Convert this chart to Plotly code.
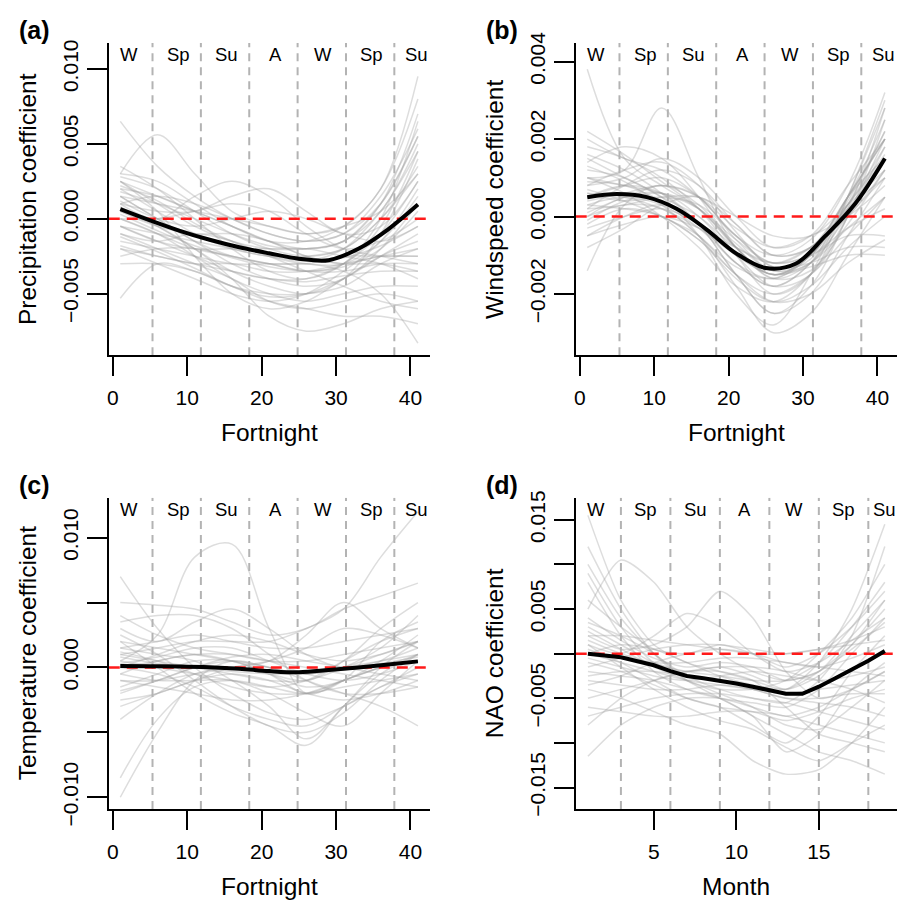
import plotly.graph_objects as go

# ---------------- data (coefficients in units of 1e-3) ----------------
fortnight_knots = [1, 6, 11, 16, 21, 26, 31, 36, 41]
fortnight_mean_x = [1, 5, 9, 13, 17, 21, 25, 29, 33, 37, 41]
month_knots = [1, 3, 5, 7, 9, 11, 13, 15, 17, 19]
month_mean_x = list(range(1, 20))

fortnight_seasons_x = [5.33, 11.83, 18.33, 24.83, 31.33, 37.83]
fortnight_label_x = [2.2, 8.8, 15.3, 21.8, 28.3, 34.8, 40.8]
month_seasons_x = [3, 6, 9, 12, 15, 18]
month_label_x = [1.5, 4.5, 7.5, 10.5, 13.5, 16.5, 19]
season_labels = ["W", "Sp", "Su", "A", "W", "Sp", "Su"]

precip_mean = [0.65, -0.1, -0.8, -1.4, -1.9, -2.3, -2.66, -2.76, -2.0, -0.7, 0.95]
precip_draws = [
    [6.5, 3.5, 1.5, 0.0, -1.0, -1.5, -1.0, 1.5, 6.0],
    [3.0, 5.6, 3.0, 0.5, -0.5, -1.0, -0.5, 2.0, 8.0],
    [2.5, 1.5, 0.5, -0.5, -1.5, -2.0, -1.5, 1.0, 5.5],
    [2.0, 0.5, -1.0, -2.0, -2.5, -2.8, -2.0, 0.5, 4.5],
    [-5.3, -3.0, -3.5, -4.5, -5.0, -5.0, -4.5, -3.0, -2.0],
    [1.5, 0.0, -1.5, -3.0, -4.0, -4.5, -4.0, -2.0, 1.0],
    [1.0, 0.5, 0.5, 1.5, 2.0, 0.5, -1.0, -0.5, 2.5],
    [0.5, -0.5, -1.0, -1.0, -1.5, -2.5, -3.0, -2.5, -2.5],
    [-1.0, -2.0, -3.0, -4.0, -5.5, -6.0, -5.5, -5.0, -5.5],
    [2.8, 2.0, 0.5, -1.0, -2.0, -2.5, -2.0, 0.0, 3.0],
    [0.0, -1.0, -2.0, -2.5, -3.0, -3.5, -3.5, -3.0, -3.0],
    [-2.0, -2.5, -3.0, -3.0, -3.5, -3.5, -3.0, -2.5, -2.0],
    [1.8, 1.0, 0.0, -1.0, -1.8, -2.0, -1.5, 0.5, 5.0],
    [-0.5, -1.5, -2.5, -3.5, -4.0, -4.0, -3.0, -1.0, 2.5],
    [3.0, 2.5, 1.0, -0.5, -1.5, -1.5, -0.5, 2.0, 9.5],
    [0.5, -0.5, -2.0, -4.0, -6.5, -7.5, -7.0, -6.0, -5.5],
    [-1.5, -2.0, -2.5, -3.0, -3.0, -3.0, -2.5, -2.5, -2.5],
    [1.0, 0.0, 1.5, 2.5, 1.5, -0.5, -2.0, -2.5, -3.0],
    [2.2, 1.2, -0.3, -1.5, -2.5, -3.0, -3.0, -1.5, 1.5],
    [0.0, -1.0, -2.5, -4.0, -5.0, -5.5, -5.0, -4.5, -4.5],
    [-2.5, -2.0, -2.0, -2.5, -3.0, -3.0, -3.5, -5.0, -8.3],
    [1.5, 1.0, 0.5, 0.0, -0.5, -1.0, -0.5, 0.5, 3.0],
    [0.8, -0.5, -2.0, -3.5, -4.5, -5.0, -4.0, -1.0, 4.0],
    [-1.0, -1.5, -1.0, -1.5, -2.5, -3.5, -4.5, -5.5, -6.0],
    [2.5, 0.5, -2.5, -5.0, -6.0, -5.5, -4.0, -2.5, -1.5],
    [-0.5, -1.0, -1.5, -2.0, -2.5, -2.5, -2.0, 0.0, 3.5],
    [1.2, 0.0, -0.5, 0.0, 0.5, 0.0, -1.0, -1.5, -0.5],
    [-3.0, -3.0, -3.5, -4.5, -5.5, -6.0, -6.5, -6.5, -7.0],
    [0.3, -0.8, -1.8, -2.6, -3.2, -3.5, -3.2, -2.0, 0.5],
    [2.0, 1.5, 0.5, -0.5, -1.5, -2.5, -3.0, -3.0, -3.5],
    [-1.8, -2.5, -3.0, -3.5, -4.0, -4.2, -3.8, -3.5, -3.5],
    [1.0, 1.5, 1.0, 0.0, -1.0, -1.5, -1.0, 1.0, 5.5],
    [3.5, 2.0, 0.0, -2.0, -3.5, -4.0, -3.0, 0.0, 6.5],
    [-0.5, -1.5, -2.0, -2.0, -2.0, -2.0, -2.5, -3.0, -4.0],
    [0.0, 0.0, 0.5, 1.0, 0.5, -1.0, -2.0, -1.5, 0.0],
    [1.5, 0.0, -1.5, -2.5, -3.0, -3.5, -3.0, -0.5, 4.5],
    [-1.2, -2.2, -3.3, -4.5, -5.2, -5.0, -4.0, -2.5, -1.0],
    [2.5, 1.0, -0.5, -1.5, -2.0, -2.0, -1.5, 1.0, 7.0],
    [0.6, -0.3, -1.0, -1.8, -2.4, -2.8, -2.6, -1.8, -0.5],
    [-2.0, -3.0, -4.0, -5.0, -5.5, -5.0, -3.5, -1.5, 2.0],
]

wind_mean = [0.5, 0.58, 0.5, 0.2, -0.33, -0.95, -1.33, -1.22, -0.5, 0.33, 1.5]
wind_draws = [
    [3.8, 1.5, 0.8, 0.2, -0.8, -1.5, -1.0, 0.5, 2.0],
    [2.0, 1.5, 1.2, 0.5, -0.5, -1.2, -0.8, 0.5, 2.5],
    [-1.4, 0.3, 0.8, 0.3, -0.8, -1.6, -1.2, 0.0, 1.0],
    [1.0, 1.2, 2.8, 1.0, -0.8, -1.5, -1.0, 0.3, 1.5],
    [0.5, 0.8, 0.6, -0.2, -1.5, -2.5, -2.0, -0.5, 1.0],
    [0.0, 0.3, 0.2, -0.5, -1.8, -3.0, -2.5, -1.0, 0.5],
    [1.5, 1.0, 0.5, -0.5, -2.0, -2.8, -1.5, 0.5, 2.8],
    [-0.5, -0.2, 0.0, -0.3, -0.8, -1.2, -1.0, -0.5, -0.5],
    [0.8, 1.0, 1.5, 1.0, 0.0, -0.8, -0.5, 0.8, 2.0],
    [0.3, 0.5, 0.3, -0.3, -1.2, -1.8, -1.2, 0.3, 2.2],
    [1.2, 1.0, 0.5, 0.0, -0.8, -1.2, -0.8, 0.0, 1.2],
    [-0.3, 0.0, 0.2, -0.2, -1.0, -1.5, -1.3, -1.0, -1.0],
    [0.6, 0.5, 0.2, -0.3, -1.0, -1.5, -1.2, -0.3, 0.5],
    [1.8, 1.5, 1.0, 0.2, -1.0, -2.0, -1.5, 0.5, 3.0],
    [0.2, 0.8, 1.2, 0.8, -0.2, -1.0, -0.8, 0.2, 1.5],
    [-0.8, -0.3, 0.3, 0.5, -0.2, -1.0, -0.8, 0.5, 2.0],
    [1.0, 0.6, 0.0, -0.8, -1.8, -2.2, -1.5, 0.0, 1.8],
    [0.4, 0.6, 0.8, 0.5, -0.3, -0.8, -0.5, 0.0, 0.8],
    [0.7, 0.4, 0.0, -0.5, -1.5, -2.0, -1.5, -0.5, 0.5],
    [1.4, 1.8, 1.5, 0.5, -0.8, -1.5, -1.0, 0.3, 1.8],
    [0.0, 0.5, 0.6, 0.0, -1.0, -1.8, -1.5, 0.0, 2.5],
    [-0.2, 0.2, 0.0, -0.6, -1.5, -2.2, -2.0, -1.2, -0.6],
    [0.9, 0.8, 0.4, -0.2, -1.2, -1.8, -1.2, 0.5, 2.0],
    [0.2, 0.3, 0.5, 0.5, 0.0, -0.5, -0.5, 0.3, 1.2],
    [1.6, 1.2, 0.6, -0.2, -1.5, -2.5, -1.8, 0.0, 2.0],
    [0.5, 0.8, 1.0, 0.5, -0.5, -1.0, -0.6, 0.8, 3.2],
    [-0.5, 0.0, 0.3, -0.2, -1.2, -1.6, -1.0, 0.5, 1.5],
    [1.0, 0.8, 0.6, 0.2, -0.6, -1.2, -1.0, -0.3, 0.2],
    [0.3, 0.2, 0.0, -0.6, -1.6, -2.2, -1.8, -0.8, 0.0],
    [0.8, 1.2, 1.4, 0.8, -0.4, -1.3, -1.0, 0.2, 1.0],
    [0.1, 0.5, 0.8, 0.5, -0.6, -1.4, -1.2, 0.2, 2.8],
    [1.3, 0.9, 0.3, -0.5, -1.3, -1.6, -1.0, 0.3, 1.6],
    [-0.1, 0.4, 0.6, 0.2, -0.8, -1.6, -1.4, -0.2, 1.2],
    [0.6, 0.4, 0.5, 0.3, -0.5, -1.3, -1.2, -0.8, -0.8],
    [2.2, 1.6, 0.9, 0.2, -0.7, -1.4, -1.1, 0.4, 2.2],
]

temp_mean = [0.12, 0.1, 0.08, 0.02, -0.1, -0.28, -0.37, -0.2, 0.0, 0.22, 0.47]
temp_draws = [
    [-10.0, -5.0, -1.0, 0.5, 0.0, -0.5, 0.0, 0.5, 1.0],
    [-8.5, -4.0, -1.5, -1.0, -1.5, -2.0, -1.0, 0.0, 0.5],
    [0.5, 2.5, 8.5, 9.5, 3.0, -2.0, -1.0, 0.0, 0.5],
    [1.0, 1.5, 2.0, 2.0, 2.0, 3.0, 4.5, 8.5, 12.0],
    [7.0, 3.0, 0.0, -2.0, -3.5, -4.0, -3.0, -1.5, 0.0],
    [5.0, 4.8, 4.5, 3.5, 2.5, 3.0, 4.5, 5.5, 6.5],
    [1.5, 1.0, 0.5, -1.0, -3.0, -5.5, -3.0, 0.0, 2.0],
    [-2.0, -1.0, 0.0, 0.5, 0.0, -1.0, -2.0, -3.0, -4.5],
    [2.0, 1.5, 1.0, 0.5, 0.0, -0.5, 0.0, 1.0, 2.0],
    [-1.5, -0.5, 0.5, 0.5, -0.5, -1.5, -1.0, 0.5, 2.5],
    [0.0, -0.5, -1.5, -3.0, -4.0, -4.5, -3.0, -1.5, -0.5],
    [3.0, 2.0, 3.5, 4.5, 3.0, 1.0, 0.0, 0.5, 1.5],
    [-3.0, -2.0, -1.0, 0.0, 0.5, 1.5, 3.0, 2.5, 1.5],
    [1.0, 0.5, 0.0, -0.5, -1.0, -1.0, 0.0, 1.5, 4.0],
    [-1.0, -1.5, -2.0, -2.5, -2.5, -2.0, -1.0, 0.0, 1.0],
    [0.5, 0.0, -0.5, -1.0, -1.5, -1.0, 0.5, 2.0, 3.0],
    [4.0, 2.5, 1.5, 1.0, 0.5, 0.5, 1.0, 1.5, 2.0],
    [-0.5, 0.5, 1.0, 1.0, 0.5, 0.0, -0.5, -1.0, -1.5],
    [2.5, 1.0, -1.0, -3.0, -4.5, -5.0, -3.5, -1.0, 1.0],
    [0.0, 0.5, 1.0, 0.5, -0.5, -2.0, -1.0, 2.0, 3.5],
    [-2.5, -2.0, -1.0, -0.5, -1.0, -2.0, -2.5, -2.0, -1.0],
    [1.5, 2.0, 2.5, 2.0, 1.5, 1.5, 2.0, 2.5, 3.0],
    [-0.5, -1.0, -1.0, -1.0, -2.0, -3.5, -4.5, -2.0, 0.5],
    [0.8, 0.3, 0.0, -0.3, -0.5, -0.5, -0.2, 0.3, 0.8],
    [-1.8, -1.0, 0.0, 0.8, 1.0, 0.5, 0.0, -0.5, -1.0],
    [3.5, 4.0, 4.0, 3.0, 1.0, -1.0, -2.0, -2.0, -1.5],
    [-4.0, -2.0, -0.5, 0.0, -0.5, -1.0, 0.5, 3.0, 5.0],
    [0.3, 0.8, 1.5, 1.5, 0.5, -0.5, -1.0, -0.5, 0.5],
    [1.2, 0.5, -0.5, -1.5, -2.0, -2.0, -1.5, -1.0, -0.5],
    [-1.0, -1.0, -0.5, 0.0, 0.5, 2.5, 5.0, 3.0, 1.5],
    [2.0, 0.0, -2.0, -3.5, -4.5, -6.0, -3.0, -0.5, 1.0],
    [0.0, 1.0, 2.0, 2.5, 2.0, 1.0, 0.5, 1.0, 2.0],
]

nao_mean = [0.0, -0.2, -0.4, -0.85, -1.3, -1.95, -2.5, -2.75, -3.0, -3.35,
            -3.7, -4.1, -4.5, -4.5, -3.7, -2.75, -1.8, -0.8, 0.3]
nao_draws = [
    [15.5, 6.0, 1.0, -1.0, -2.0, -3.0, -4.0, -1.0, 5.0, 14.5],
    [-11.5, -8.0, -6.0, -5.0, -5.0, -6.0, -7.0, -6.0, -4.0, -2.0],
    [5.0, 10.5, 8.0, 3.0, 0.0, -2.0, -3.0, -2.0, 2.0, 6.0],
    [10.0, 4.0, 0.0, -2.5, -4.0, -5.0, -5.5, -3.0, 2.0, 12.0],
    [2.0, 0.5, 1.0, 3.0, 7.0, 4.0, -2.0, -5.0, -4.0, -2.0],
    [-2.0, -2.5, -3.0, -4.0, -5.0, -7.0, -9.0, -11.0, -12.0, -13.5],
    [-4.0, -5.0, -6.5, -8.0, -9.0, -12.0, -13.5, -13.0, -10.0, -6.0],
    [3.0, 1.0, -1.0, -2.0, -2.5, -3.0, -3.0, -1.0, 3.0, 8.0],
    [0.0, -1.0, -2.0, -3.0, -3.5, -4.0, -4.5, -4.0, -3.5, -3.0],
    [-6.0, -6.5, -7.0, -7.0, -6.5, -6.5, -7.0, -8.0, -9.0, -10.0],
    [6.0, 3.0, 0.5, 0.0, 1.0, 0.0, -1.5, 0.0, 3.0, 7.0],
    [-1.0, -2.0, -3.5, -5.0, -6.0, -6.5, -7.5, -6.5, -5.0, -4.0],
    [1.0, 0.0, 2.0, 4.5, 3.0, 0.0, -2.0, -1.0, 1.5, 4.0],
    [8.0, 2.0, -2.0, -4.0, -5.0, -5.5, -6.0, -4.0, 0.0, 4.0],
    [-3.0, -3.5, -4.0, -4.0, -3.5, -4.0, -5.0, -5.0, -4.5, -4.5],
    [2.0, 2.0, 1.5, 1.0, 0.5, 0.0, 0.0, 0.5, 1.0, 1.5],
    [-8.0, -5.0, -3.0, -2.0, -2.0, -3.0, -6.0, -9.0, -10.0, -11.0],
    [4.0, 1.5, -0.5, -1.5, -1.0, -1.5, -3.0, -2.0, 0.5, 3.5],
    [-2.5, -2.0, -2.0, -2.5, -3.0, -4.0, -5.0, -5.5, -6.0, -7.0],
    [0.5, -1.0, -3.0, -5.0, -6.0, -8.0, -10.0, -7.0, -2.0, 2.0],
    [12.0, 5.0, 0.0, -3.0, -4.0, -4.0, -3.0, 0.0, 4.0, 10.0],
    [-5.0, -4.0, -3.0, -2.0, -1.5, -1.5, -2.0, -3.0, -4.0, -5.5],
    [1.5, 0.0, -1.0, -1.0, -0.5, -0.5, -1.0, -1.5, -2.0, -2.5],
    [-1.5, -0.5, 0.5, 1.0, 1.0, 0.5, 0.0, 0.5, 1.5, 3.0],
    [3.5, 2.0, 0.0, -3.0, -5.0, -7.0, -11.0, -9.0, -4.0, -1.0],
    [-7.0, -6.0, -5.0, -4.5, -4.5, -5.0, -5.5, -6.5, -7.5, -8.5],
    [0.0, 1.0, 0.5, -1.0, -2.5, -3.5, -4.0, -2.0, 1.0, 5.0],
    [2.5, 0.5, -1.5, -3.0, -4.5, -6.0, -8.0, -8.5, -6.0, -3.0],
    [-0.5, -1.5, -2.5, -3.0, -2.5, -2.0, -2.5, -3.0, -2.5, -1.5],
    [9.0, 3.0, -1.0, -2.0, -1.5, -2.5, -4.0, -2.5, 1.0, 6.0],
    [-3.5, -2.5, -1.0, 0.0, 0.5, 0.0, -1.0, -1.5, -0.5, 1.0],
    [1.0, -1.5, -4.0, -6.0, -7.5, -8.5, -10.5, -12.0, -10.0, -8.0],
]

# ---------------- styling / layout ----------------
W, H = 904, 919
FONT = "Liberation Sans, Arial, sans-serif"
GRAY = "rgba(160,160,160,0.36)"
SCALE = 1e-3
TICK_SIZE = 21
TITLE_SIZE = 24.5
SEASON_SIZE = 18.5
TAG_SIZE = 25

panels = [
    dict(tag="(a)", s="", box=(107, 429, 33, 355), xr=[-0.55, 42.63], yr=[-0.0091, 0.01173],
         knots=fortnight_knots, draws=precip_draws, mx=fortnight_mean_x, mean=precip_mean,
         mean_shape="spline", vlines=fortnight_seasons_x, lab_x=fortnight_label_x,
         xt=[0, 10, 20, 30, 40], yt=[-0.005, 0, 0.005, 0.01],
         ytt=["\u22120.005", "0.000", "0.005", "0.010"],
         ytitle="Precipitation coefficient", xtitle="Fortnight"),
    dict(tag="(b)", s="2", box=(575, 897, 33, 355), xr=[-0.55, 42.63], yr=[-0.00358, 0.00448],
         knots=fortnight_knots, draws=wind_draws, mx=fortnight_mean_x, mean=wind_mean,
         mean_shape="spline", vlines=fortnight_seasons_x, lab_x=fortnight_label_x,
         xt=[0, 10, 20, 30, 40], yt=[-0.002, 0, 0.002, 0.004],
         ytt=["\u22120.002", "0.000", "0.002", "0.004"],
         ytitle="Windspeed coefficient", xtitle="Fortnight"),
    dict(tag="(c)", s="3", box=(107, 429, 502, 823), xr=[-0.55, 42.63], yr=[-0.0109, 0.01308],
         knots=fortnight_knots, draws=temp_draws, mx=fortnight_mean_x, mean=temp_mean,
         mean_shape="spline", vlines=fortnight_seasons_x, lab_x=fortnight_label_x,
         xt=[0, 10, 20, 30, 40], yt=[-0.01, -0.005, 0, 0.005, 0.01],
         ytt=["\u22120.010", "", "0.000", "", "0.010"],
         ytitle="Temperature coefficient", xtitle="Fortnight"),
    dict(tag="(d)", s="4", box=(575, 897, 502, 823), xr=[0.26, 19.74], yr=[-0.0174, 0.01748],
         knots=month_knots, draws=nao_draws, mx=month_mean_x, mean=nao_mean,
         mean_shape="linear", vlines=month_seasons_x, lab_x=month_label_x,
         xt=[5, 10, 15], yt=[-0.015, -0.01, -0.005, 0, 0.005, 0.01, 0.015],
         ytt=["\u22120.015", "", "\u22120.005", "", "0.005", "", "0.015"],
         ytitle="NAO coefficient", xtitle="Month"),
]

fig = go.Figure()
annotations = []
layout = {}

for p in panels:
    s = p["s"]
    xa, ya = "x" + s, "y" + s
    l, r, t, b = p["box"]
    # gray posterior curves
    for d in p["draws"]:
        fig.add_trace(go.Scatter(
            x=p["knots"], y=[v * SCALE for v in d], mode="lines",
            line=dict(color=GRAY, width=1.5, shape="spline",
                      smoothing=1.0 if s != "4" else 0.7),
            hoverinfo="skip", showlegend=False, xaxis=xa, yaxis=ya))
    # season separators
    vx, vy = [], []
    for v in p["vlines"]:
        vx += [v, v, None]
        vy += [p["yr"][0], p["yr"][1], None]
    fig.add_trace(go.Scatter(x=vx, y=vy, mode="lines",
                             line=dict(color="#b3b3b3", width=2, dash="8px,6px"),
                             hoverinfo="skip", showlegend=False, xaxis=xa, yaxis=ya))
    # zero reference
    fig.add_trace(go.Scatter(x=p["xr"], y=[0, 0], mode="lines",
                             line=dict(color="#ff1a1a", width=2.5, dash="11px,7px"),
                             hoverinfo="skip", showlegend=False, xaxis=xa, yaxis=ya))
    # mean curve
    fig.add_trace(go.Scatter(x=p["mx"], y=[v * SCALE for v in p["mean"]], mode="lines",
                             line=dict(color="black", width=4, shape=p["mean_shape"]),
                             hoverinfo="skip", showlegend=False, xaxis=xa, yaxis=ya))

    layout["xaxis" + s] = dict(
        domain=[l / W, r / W], range=p["xr"], anchor=ya, showline=True, linewidth=2,
        linecolor="black", ticks="outside", ticklen=19, tickwidth=2, tickcolor="black",
        tickvals=p["xt"], showgrid=False, zeroline=False, ticklabelstandoff=4,
        tickfont=dict(size=TICK_SIZE, color="black", family=FONT))
    layout["yaxis" + s] = dict(
        domain=[1 - b / H, 1 - t / H], range=p["yr"], anchor=xa, showline=True, linewidth=2,
        linecolor="black", ticks="outside", ticklen=20, tickwidth=2, tickcolor="black",
        tickvals=p["yt"], ticktext=p["ytt"], tickangle=-90, showgrid=False, zeroline=False,
        tickfont=dict(size=TICK_SIZE, color="black", family=FONT))

    # season labels
    for lx, lab in zip(p["lab_x"], season_labels):
        annotations.append(dict(x=lx, y=1 - (t + 12) / H, xref=xa, yref="paper", text=lab,
                                showarrow=False, xanchor="center", yanchor="middle",
                                font=dict(size=SEASON_SIZE, color="black", family=FONT)))
    # axis titles
    annotations.append(dict(x=(l + r) / 2 / W, y=1 - (b + 80) / H, xref="paper", yref="paper",
                            text=p["xtitle"], showarrow=False, xanchor="center", yanchor="middle",
                            font=dict(size=TITLE_SIZE, color="black", family=FONT)))
    annotations.append(dict(x=(l - 82) / W, y=1 - (t + b) / 2 / H, xref="paper", yref="paper",
                            text=p["ytitle"], showarrow=False, textangle=-90,
                            xanchor="center", yanchor="middle",
                            font=dict(size=TITLE_SIZE, color="black", family=FONT)))
    # panel tag
    annotations.append(dict(x=(l - 74) / W, y=1 - (t - 13) / H, xref="paper", yref="paper",
                            text="<b>" + p["tag"] + "</b>", showarrow=False,
                            xanchor="center", yanchor="middle",
                            font=dict(size=TAG_SIZE, color="black", family=FONT)))

fig.update_layout(
    width=W, height=H, margin=dict(l=0, r=0, t=0, b=0),
    paper_bgcolor="white", plot_bgcolor="white", showlegend=False,
    font=dict(family=FONT, color="black"), annotations=annotations, **layout)

fig.write_html("out.html", config={"displayModeBar": False},
               post_script="document.body.style.margin='0px';"
                           "document.body.style.overflow='hidden';")
